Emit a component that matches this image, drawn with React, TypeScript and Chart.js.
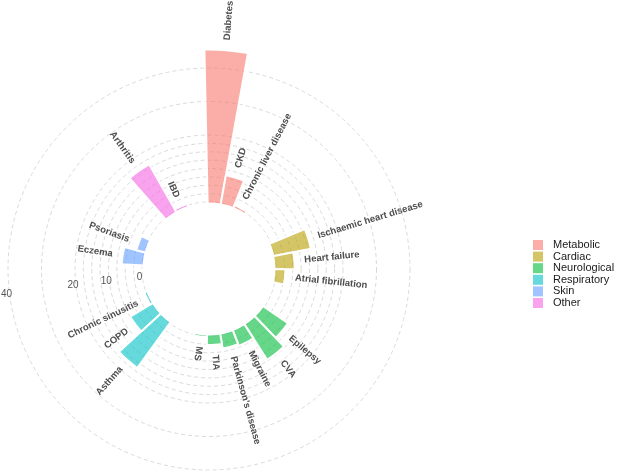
import React, { useEffect, useRef } from 'react';
import { Chart, registerables } from 'chart.js';

Chart.register(...registerables);

// ---- data ----
const groups = ['Metabolic', 'Cardiac', 'Neurological', 'Respiratory', 'Skin', 'Other'];
const groupColors = [
  'rgba(248,118,109,0.6)',
  'rgba(183,159,0,0.6)',
  'rgba(0,186,56,0.6)',
  'rgba(0,191,196,0.6)',
  'rgba(97,156,255,0.6)',
  'rgba(245,100,227,0.6)',
];
const conditions = [
  'Diabetes', 'CKD', 'Chronic liver disease',
  'Ischaemic heart disease', 'Heart failure', 'Atrial fibrillation',
  'Epilepsy', 'CVA', 'Migraine', "Parkinson's disease", 'TIA', 'MS',
  'Asthma', 'COPD', 'Chronic sinusitis',
  'Eczema', 'Psoriasis',
  'Arthritis', 'IBD',
];
const conditionGroup = [0, 0, 0, 1, 1, 1, 2, 2, 2, 2, 2, 2, 3, 3, 3, 4, 4, 5, 5];
const values = [45.5, 8.4, 0.5, 11, 5.6, 2.8, 8.6, 12.2, 4.6, 4.1, 2.7, 0.3, 16.5, 7.5, 0.5, 6.1, 2.4, 16, 0.5];
const gapSlots = [3, 2, 2, 2, 2, 1.5];
const gridValues = [0, 2.5, 5, 7.5, 10, 12.5, 15, 17.5, 20, 30, 40];
const axisTickLabels = [0, 10, 20, 40];

// ---- derived rows (bars + empty gap slots) ----
type Row = { label: string; value: number | null; color: string; angle: number };
const slotCount = conditions.length + gapSlots.reduce((a, b) => a + b, 0);
const slotDeg = 360 / slotCount;
const rows: Row[] = [];
groups.forEach((g, gi) => {
  conditions.forEach((c, ci) => {
    if (conditionGroup[ci] === gi) rows.push({ label: c, value: values[ci], color: groupColors[gi], angle: slotDeg });
  });
  rows.push({ label: '', value: null, color: 'rgba(0,0,0,0)', angle: gapSlots[gi] * slotDeg });
});

const FONT = '"Liberation Sans", Arial, Helvetica, sans-serif';

const overlayPlugin = {
  id: 'overlay',
  afterDatasetsDraw(chart: any) {
    const ctx = chart.ctx as CanvasRenderingContext2D;
    const scale = chart.scales.r;
    const cx = scale.xCenter;
    const cy = scale.yCenter;
    const hole = scale.getDistanceFromCenterForValue(0);
    ctx.save();
    ctx.fillStyle = '#ffffff';
    ctx.beginPath();
    ctx.arc(cx, cy, hole - 0.5, 0, Math.PI * 2);
    ctx.fill();
    ctx.restore();

    // bar labels
    const meta = chart.getDatasetMeta(0);
    ctx.save();
    ctx.font = `bold 9.5px ${FONT}`;
    ctx.fillStyle = '#4d4d4d';
    ctx.textBaseline = 'middle';
    rows.forEach((row, i) => {
      if (row.value === null) return;
      const arc = meta.data[i];
      const a = (arc.startAngle + arc.endAngle) / 2;
      const r = scale.getDistanceFromCenterForValue(row.value + 3);
      let theta = (a + Math.PI / 2) % (Math.PI * 2);
      if (theta < 0) theta += Math.PI * 2;
      const x = cx + Math.cos(a) * r;
      const y = cy + Math.sin(a) * r;
      ctx.save();
      ctx.translate(x, y);
      if (theta <= (190 * Math.PI) / 180) {
        ctx.rotate(a);
        ctx.textAlign = 'left';
      } else {
        ctx.rotate(a + Math.PI);
        ctx.textAlign = 'right';
      }
      ctx.fillText(row.label, 0, 0);
      ctx.restore();
    });
    ctx.restore();

    // value axis labels
    ctx.save();
    ctx.font = `10px ${FONT}`;
    ctx.fillStyle = '#555555';
    ctx.textAlign = 'center';
    ctx.textBaseline = 'middle';
    const la = ((263 - 90) * Math.PI) / 180;
    axisTickLabels.forEach((v) => {
      const r = scale.getDistanceFromCenterForValue(v) + 3;
      ctx.fillText(String(v), cx + Math.cos(la) * r, cy + Math.sin(la) * r);
    });
    ctx.restore();
  },
  afterDraw(chart: any) {
    const ctx = chart.ctx as CanvasRenderingContext2D;
    ctx.save();
    ctx.font = `11px ${FONT}`;
    ctx.textBaseline = 'middle';
    ctx.textAlign = 'left';
    groups.forEach((g, i) => {
      const yc = 245 + i * 11.6;
      ctx.fillStyle = groupColors[i];
      ctx.fillRect(533, yc - 5, 10, 10);
      ctx.fillStyle = '#1a1a1a';
      ctx.fillText(g, 553, yc);
    });
    ctx.restore();
  },
};

export default function App() {
  const ref = useRef<HTMLCanvasElement | null>(null);
  useEffect(() => {
    if (!ref.current) return;
    const chart = new Chart(ref.current, {
      type: 'polarArea',
      data: {
        labels: rows.map((r) => r.label),
        datasets: [
          {
            data: rows.map((r) => r.value) as any,
            backgroundColor: rows.map((r) => r.color),
            borderColor: '#ffffff',
            borderWidth: rows.map((r) => (r.value === null ? 0 : 2)),
            angle: rows.map((r) => r.angle),
            clip: false,
          } as any,
        ],
      },
      options: {
        animation: false,
        responsive: false,
        events: [],
        layout: { padding: { left: 8, top: 68, right: 208, bottom: 3 } },
        plugins: { legend: { display: false }, tooltip: { enabled: false } },
        scales: {
          r: {
            min: -20,
            max: 40,
            startAngle: -1.2,
            ticks: { display: false },
            afterBuildTicks: (scale: any) => {
              scale.ticks = gridValues.map((v) => ({ value: v }));
            },
            grid: {
              circular: true,
              color: (ctx: any) => (ctx.tick && ctx.tick.value >= 0 ? '#d9d9d9' : 'rgba(0,0,0,0)'),
              lineWidth: 1,
            },
            border: { dash: [4, 3] },
            angleLines: { display: false },
            pointLabels: { display: false },
          } as any,
        },
      },
      plugins: [overlayPlugin],
    });
    return () => chart.destroy();
  }, []);
  return (
    <div style={{ position: 'fixed', left: 0, top: 0, width: 618, height: 473, background: '#fff' }}>
      <canvas ref={ref} width={618} height={473} style={{ display: 'block' }} />
    </div>
  );
}
